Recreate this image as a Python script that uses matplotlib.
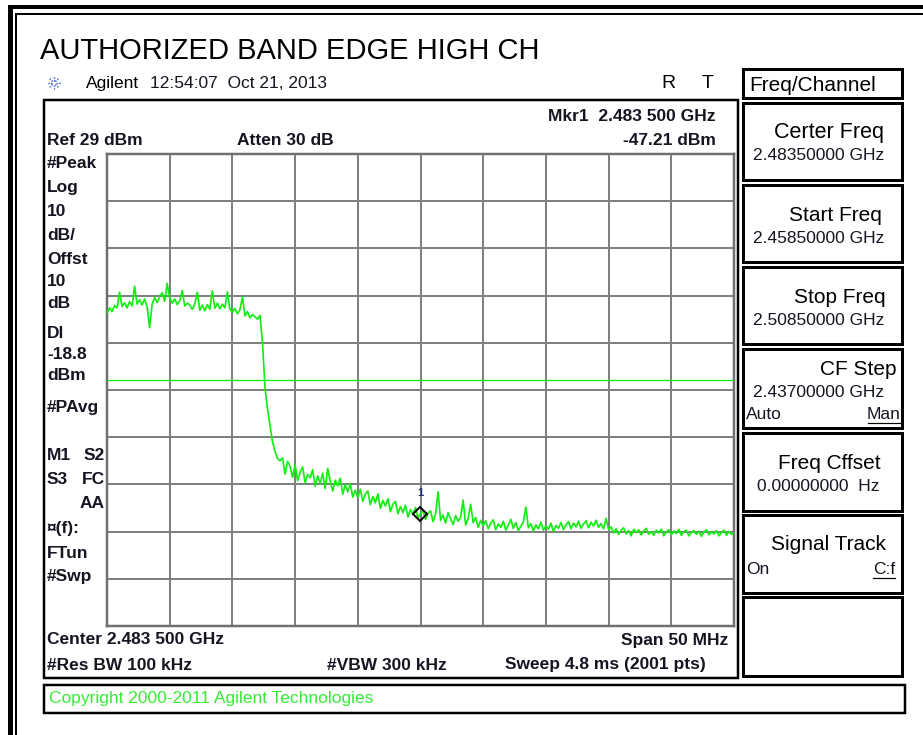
import numpy as np
import matplotlib
matplotlib.use("Agg")
import matplotlib.pyplot as plt
from matplotlib.patches import Rectangle

plt.rcParams['font.family'] = ['Liberation Sans', 'DejaVu Sans']

# ---------------- data ----------------
START_GHZ = 2.4585
STOP_GHZ = 2.5085
REF_DBM = 29
DB_PER_DIV = 10
DISPLAY_LINE_DBM = -18.8
MARKER_GHZ = 2.4835
MARKER_DBM = -47.21

# trace levels (dBm), evenly spaced over the span
inband_dbm = [-4.8, -3.6, -4.4, -3.1, -3.6, -0.3, -3.3, -2.5, -3.6, -2.3,
              -3.2, 1.0, -2.8, -1.9, -3.0, -1.7, -3.4, -7.8, -2.8, -1.4,
              -2.5, -1.2, -0.4, -2.2, 1.6, -1.5, -2.6, -1.7, -2.9, -2.1,
              0.1, -3.2, -2.6, -3.0, -3.9, -2.8, -0.3, -4.1, -3.0, -4.2,
              -2.9, -3.9, 0.0, -3.7, -2.6, -3.8, -2.8, -3.6, -0.2, -3.9,
              -4.5, -3.7, -4.9, -4.0, -1.3, -5.3, -4.4, -5.7, -5.0, -5.5,
              -6.0, -5.2]
rolloff_dbm = [-11.0, -20.5, -25.0, -28.5, -32.0, -34.0, -35.5, -36.0]
skirt_a_dbm = [-35.4, -38.8, -36.1, -37.2, -39.5, -36.8, -40.2, -38.4, -37.3, -40.7,
               -38.9, -39.6, -37.9, -41.4, -39.2, -40.8, -38.6, -41.9, -37.6, -40.3,
               -42.4, -40.1, -41.3, -39.7, -43.1, -41.0, -42.6, -40.8, -43.7, -42.2]
skirt_b_dbm = [-43.8, -42.0, -44.6, -43.1, -42.4, -45.3, -43.6, -44.9, -43.0, -46.1,
               -44.4, -45.6, -44.0, -46.8, -45.2, -44.6, -47.2, -45.7, -47.0, -45.4,
               -47.9, -46.3, -47.4, -45.9, -48.1, -47.2, -46.5, -48.4, -47.1, -46.6,
               -48.9, -47.3, -42.6, -48.6, -47.5, -49.2, -47.0, -48.3, -49.5, -47.6,
               -48.8, -47.9, -44.3, -49.6, -48.2, -45.2, -49.1, -48.0, -50.1, -48.6]
skirt_c_dbm = [-49.8, -48.7, -50.4, -49.2, -48.5, -50.6, -49.4, -50.1, -48.8, -50.7,
               -49.6, -48.4, -50.3, -49.1, -50.8, -49.9, -49.0, -45.8, -50.2, -49.3,
               -50.9, -49.6, -50.4, -49.0, -50.7, -49.8, -50.5, -49.2, -51.0, -49.7,
               -50.3, -49.1, -50.6, -49.5, -48.9, -50.4, -49.2, -50.0, -48.8, -50.3,
               -49.4, -48.7, -50.2, -49.0, -49.8, -48.6, -50.1, -49.3, -50.4, -48.2]
skirt_d_dbm = [-50.6, -50.0, -51.3, -50.4, -51.6, -50.7, -50.2, -51.5, -50.8, -51.9,
               -50.5, -51.2, -50.6, -51.7, -50.9, -50.3, -51.6, -51.0, -51.8, -50.7,
               -51.3, -50.5, -51.9, -51.1, -50.6, -51.7, -50.9, -51.4, -50.5, -51.8,
               -51.0, -50.7, -51.9, -51.2, -50.8, -51.6, -50.9, -52.0, -51.1, -50.6,
               -51.7, -51.0, -51.5, -50.8, -51.9, -51.2, -50.7, -51.8, -51.0, -51.6,
               -51.3]

trace_dbm = np.array(inband_dbm + rolloff_dbm + skirt_a_dbm + skirt_b_dbm
                     + skirt_c_dbm + skirt_d_dbm)
freq_ghz = np.linspace(START_GHZ, STOP_GHZ, len(trace_dbm))

left_labels = [("#Peak", 163), ("Log", 187), ("10", 211), ("dB/", 235),
               ("Offst", 259), ("10", 281), ("dB", 303), ("Dl", 333),
               ("-18.8", 354), ("dBm", 375), ("#PAvg", 407), ("M1", 455),
               ("S3", 479), ("\u00a4(f):", 529), ("FTun", 553), ("#Swp", 577)]
left_labels_r = [("S2", 455), ("FC", 479), ("AA", 503)]

# ---------------- figure ----------------
W, H = 923, 735
PT = 0.72  # points per pixel at 100 dpi
fig = plt.figure(figsize=(W / 100, H / 100), dpi=100)
bg = fig.add_axes([0, 0, 1, 1])
bg.set_xlim(0, W)
bg.set_ylim(H, 0)
bg.axis('off')

K = 'black'
TXT = '#151522'

# outer frame
bg.plot([8, W], [7, 7], color=K, lw=4 * PT, solid_capstyle='butt')
bg.plot([15, W], [13.5, 13.5], color=K, lw=2 * PT, solid_capstyle='butt')
bg.plot([10, 10], [5, H], color=K, lw=5 * PT, solid_capstyle='butt')
bg.plot([15.5, 15.5], [13, H], color=K, lw=2 * PT, solid_capstyle='butt')

# main instrument box and copyright box
bg.add_patch(Rectangle((44, 99.5), 694, 578.5, fill=False, ec=K, lw=2.5 * PT))
bg.add_patch(Rectangle((44, 684.5), 861, 28.5, fill=False, ec=K, lw=2.5 * PT))

# softkey boxes
bg.add_patch(Rectangle((743, 69), 159, 29, fill=False, ec=K, lw=3 * PT))
for (y0, y1) in [(103, 180), (185, 262), (267, 344), (349, 428),
                 (433, 511), (515, 593), (597, 676)]:
    bg.add_patch(Rectangle((743, y0), 159, y1 - y0, fill=False, ec=K, lw=3 * PT))

# title / header
bg.text(40, 51, "AUTHORIZED BAND EDGE HIGH CH", fontsize=21, va='center',
        ha='left', color=K)
# Agilent spark logo
cx, cy = 54, 83
for a in np.arange(0, 360, 45):
    r = np.deg2rad(a)
    bg.plot([cx + 2 * np.cos(r), cx + 7 * np.cos(r)],
            [cy + 2 * np.sin(r), cy + 7 * np.sin(r)],
            color='#3355dd', lw=1.0, ls=(0, (1, 1)))
bg.text(86, 83, "Agilent", fontsize=12.5, va='center', ha='left', color=K)
bg.text(150, 83, "12:54:07  Oct 21, 2013", fontsize=12.5, va='center',
        ha='left', color=TXT)
bg.text(668, 83, "R", fontsize=14, va='center', ha='center', color=K)
bg.text(708, 83, "T", fontsize=14, va='center', ha='center', color=K)

B = dict(fontsize=12.5, fontweight='bold', va='center', color=TXT)
bg.text(716, 116, "Mkr1  2.483 500 GHz", ha='right', **B)
bg.text(716, 140, "-47.21 dBm", ha='right', **B)
bg.text(47, 140, "Ref 29 dBm", ha='left', **B)
bg.text(237, 140, "Atten 30 dB", ha='left', **B)
for s, y in left_labels:
    bg.text(47, y, s, ha='left', **B)
for s, y in left_labels_r:
    bg.text(105, y, s, ha='right', **B)
bg.text(47, 640, "Center 2.483 500 GHz", ha='left', **B)
bg.text(728, 640, "Span 50 MHz", ha='right', **B)
bg.text(47, 665, "#Res BW 100 kHz", ha='left', **B)
bg.text(327, 665, "#VBW 300 kHz", ha='left', **B)
bg.text(706, 665, "Sweep 4.8 ms (2001 pts)", ha='right', **B)

# softkey texts
S1 = dict(fontsize=15, va='center', color=K)
S2 = dict(fontsize=12.5, va='center', color=TXT)
bg.text(749, 85, "Freq/Channel", ha='left', **S1)
bg.text(884, 132, "Certer Freq", ha='right', fontsize=15.5, va='center', color=K)
bg.text(753, 155, "2.48350000 GHz", ha='left', **S2)
bg.text(882, 215, "Start Freq", ha='right', **S1)
bg.text(753, 238, "2.45850000 GHz", ha='left', **S2)
bg.text(886, 297, "Stop Freq", ha='right', **S1)
bg.text(753, 320, "2.50850000 GHz", ha='left', **S2)
bg.text(897, 369, "CF Step", ha='right', **S1)
bg.text(753, 392, "2.43700000 GHz", ha='left', **S2)
bg.text(746, 414, "Auto", ha='left', **S2)
bg.text(901, 414, "Man", ha='right', **S2)
bg.plot([868, 901], [423, 423], color=K, lw=1.2 * PT)
bg.text(881, 463, "Freq Cffset", ha='right', **S1)
bg.text(757, 486, "0.00000000  Hz", ha='left', **S2)
bg.text(886, 545, "Signal Track", ha='right', **S1)
bg.text(746, 569, "On", ha='left', **S2)
bg.text(895, 569, "C:f", ha='right', **S2)
bg.plot([873, 895], [578, 578], color=K, lw=1.2 * PT)

bg.text(49, 699, "Copyright 2000-2011 Agilent Technologies", fontsize=12.5,
        va='center', ha='left', color='#33ee33')

# ---------------- spectrum graticule ----------------
gx0, gx1, gy0, gy1 = 107, 734, 154, 626
ax = fig.add_axes([gx0 / W, (H - gy1) / H, (gx1 - gx0) / W, (gy1 - gy0) / H])
bottom_dbm = REF_DBM - 10 * DB_PER_DIV
ax.set_xlim(START_GHZ, STOP_GHZ)
ax.set_ylim(bottom_dbm, REF_DBM)
ax.set_xticks(np.linspace(START_GHZ, STOP_GHZ, 11))
ax.set_yticks(np.arange(bottom_dbm, REF_DBM + 1, DB_PER_DIV))
ax.tick_params(length=0, labelbottom=False, labelleft=False)
ax.grid(True, color='#808080', lw=2 * PT)
for sp in ax.spines.values():
    sp.set_color('#707070')
    sp.set_linewidth(2.5 * PT)
ax.set_axisbelow(True)

GREEN = '#11ee11'
ax.axhline(DISPLAY_LINE_DBM, color=GREEN, lw=1.3 * PT, zorder=3)
ax.plot(freq_ghz, trace_dbm, color=GREEN, lw=1.7 * PT, zorder=4)
ax.plot([MARKER_GHZ], [MARKER_DBM], marker='D', ms=7, mfc='none', mec=K,
        mew=1.4, zorder=5)
ax.annotate("1", (MARKER_GHZ, MARKER_DBM), xytext=(0, 11),
            textcoords='offset points', ha='center', va='bottom',
            fontsize=8, color='#203070', fontweight='bold', zorder=6)

fig.savefig("out.png", dpi=100)
